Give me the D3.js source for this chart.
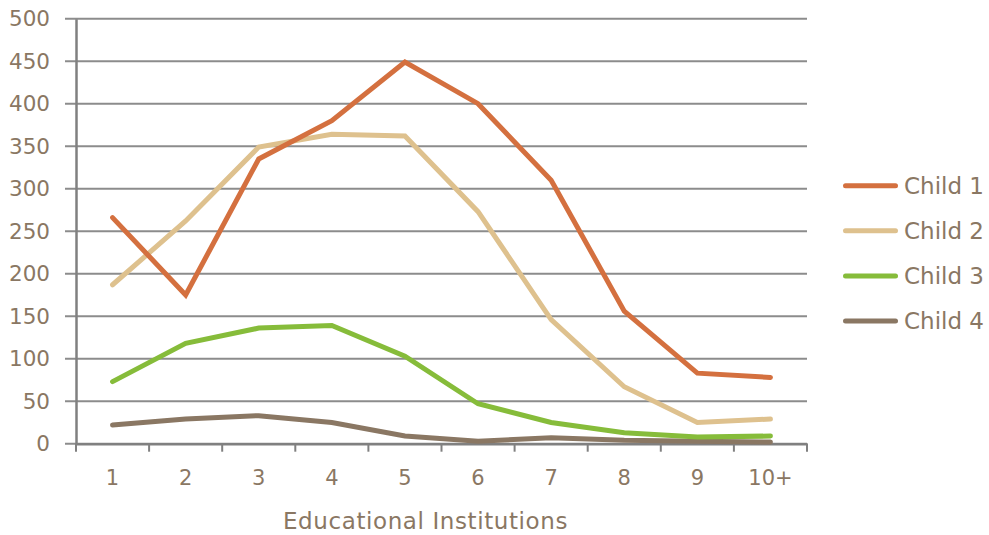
<!DOCTYPE html>
<html>
<head>
<meta charset="utf-8">
<script src="https://cdn.jsdelivr.net/npm/d3@7"></script>
<style>
  html, body { margin: 0; padding: 0; background: #fff; }
  svg { display: block; font-family: "DejaVu Sans", Verdana, sans-serif; }
</style>
</head>
<body>
<svg id="chart" width="989" height="535"></svg>
<script>
// Number of children by count of educational institutions attended
const categories = ["1", "2", "3", "4", "5", "6", "7", "8", "9", "10+"];
const seriesNames = ["Child 1", "Child 2", "Child 3", "Child 4"];
const child1 = [266, 175, 335, 380, 449, 400, 310, 156, 83, 78];
const child2 = [187, 262, 349, 364, 362, 273, 146, 67, 25, 29];
const child3 = [73, 118, 136, 139, 103, 47, 25, 13, 8, 9];
const child4 = [22, 29, 33, 25, 9, 3, 7, 4, 3, 2];
const yTicks = [0, 50, 100, 150, 200, 250, 300, 350, 400, 450, 500];
const colors = ["#D4703F", "#DEC18E", "#86BC3A", "#8A7763"];

const series = [child1, child2, child3, child4];
const textColor = "#8A7763";

const svg = d3.select("#chart");
const plotLeft = 76, plotRight = 807, plotTop = 18.7, plotBottom = 443.7;

const x = d3.scaleBand().domain(categories).range([plotLeft, plotRight]);
const y = d3.scaleLinear().domain([0, 500]).range([plotBottom, plotTop]);

// horizontal gridlines
svg.append("g")
  .selectAll("line")
  .data(yTicks)
  .join("line")
  .attr("x1", plotLeft - 11).attr("x2", plotRight)
  .attr("y1", d => y(d)).attr("y2", d => y(d))
  .attr("stroke", "#8c8c8c").attr("stroke-width", 2);

// y axis
const yAxis = svg.append("g")
  .attr("transform", `translate(${plotLeft},0)`)
  .call(d3.axisLeft(y).tickValues(yTicks).tickSize(0).tickPadding(26));
yAxis.select(".domain").attr("stroke", "#808080").attr("stroke-width", 2.5);
yAxis.selectAll("text")
  .attr("fill", textColor).attr("font-size", 21.5)
  .attr("font-family", "DejaVu Sans, sans-serif");

// x axis with ticks at band edges
const xAxis = svg.append("g")
  .attr("transform", `translate(0,${plotBottom})`)
  .call(d3.axisBottom(x).tickSize(0).tickPadding(26));
xAxis.select(".domain").attr("stroke", "#808080").attr("stroke-width", 2.5);
xAxis.selectAll("text")
  .attr("fill", textColor).attr("font-size", 21)
  .attr("font-family", "DejaVu Sans, sans-serif");
const edges = categories.map(c => x(c)).concat([x(categories[categories.length - 1]) + x.bandwidth()]);
xAxis.selectAll("line.edge")
  .data(edges)
  .join("line")
  .attr("class", "edge")
  .attr("x1", d => d).attr("x2", d => d)
  .attr("y1", 0).attr("y2", 8)
  .attr("stroke", "#808080").attr("stroke-width", 2);

// x axis title
svg.append("text")
  .attr("x", (plotLeft + plotRight) / 2 - 16).attr("y", 529)
  .attr("text-anchor", "middle")
  .attr("fill", textColor).attr("font-size", 23)
  .attr("letter-spacing", 0.6)
  .text("Educational Institutions");

// series lines
const line = d3.line()
  .x((d, i) => x(categories[i]) + x.bandwidth() / 2)
  .y(d => y(d));

svg.append("g")
  .selectAll("path")
  .data(series.slice().reverse())
  .join("path")
  .attr("d", d => line(d))
  .attr("fill", "none")
  .attr("stroke", (d, i) => colors[series.length - 1 - i])
  .attr("stroke-width", 5)
  .attr("stroke-linecap", "round")
  .attr("stroke-linejoin", "miter");

// legend
const legend = svg.append("g");
const rows = legend.selectAll("g")
  .data(seriesNames)
  .join("g")
  .attr("transform", (d, i) => `translate(843,${185.7 + i * 45.1})`);
rows.append("line")
  .attr("x1", 2.5).attr("x2", 52.5)
  .attr("stroke", (d, i) => colors[i])
  .attr("stroke-width", 5)
  .attr("stroke-linecap", "round");
rows.append("text")
  .attr("x", 61).attr("dy", "0.36em")
  .attr("fill", textColor).attr("font-size", 23)
  .text(d => d);
</script>
</body>
</html>
